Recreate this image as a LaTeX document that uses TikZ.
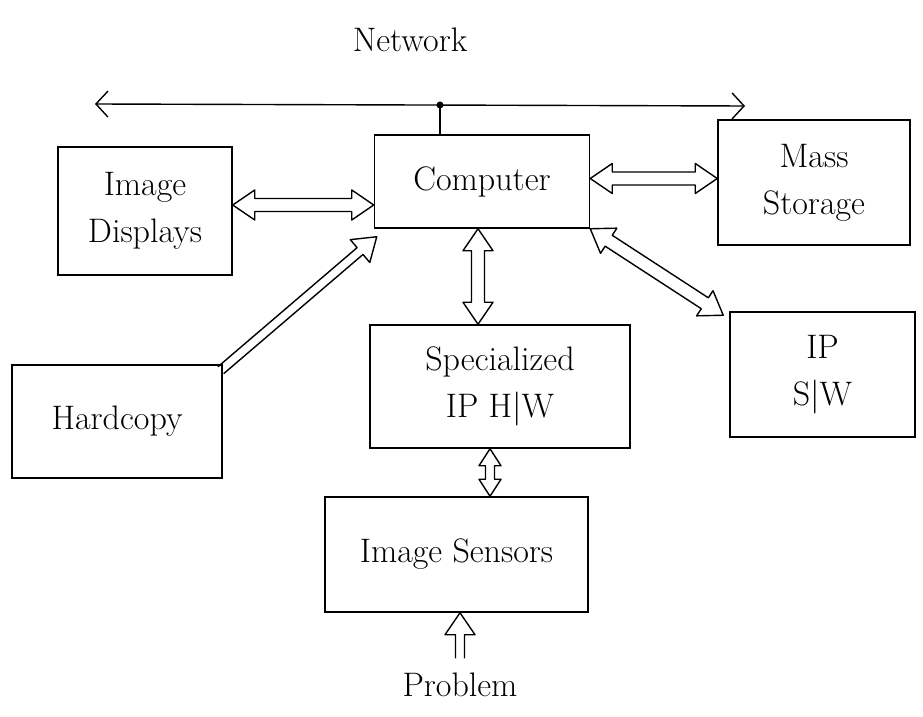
\documentclass[tikz,border=0pt]{standalone}
\usetikzlibrary{calc,arrows.meta}
\def\AH{22}\def\AW{15}\def\Aw{6.5}
\newcommand{\hboth}[2]{%
 \draw[harr] let \p1=($(#2)-(#1)$), \n1={atan2(\y1,\x1)}, \n2={veclen(\x1,\y1)} in
  (#1)
  -- ($(#1)+(\n1:\AH)+({\n1+90}:\AW)$)
  -- ($(#1)+(\n1:\AH)+({\n1+90}:\Aw)$)
  -- ($(#1)+(\n1:{\n2-\AH})+({\n1+90}:\Aw)$)
  -- ($(#1)+(\n1:{\n2-\AH})+({\n1+90}:\AW)$)
  -- (#2)
  -- ($(#1)+(\n1:{\n2-\AH})+({\n1-90}:\AW)$)
  -- ($(#1)+(\n1:{\n2-\AH})+({\n1-90}:\Aw)$)
  -- ($(#1)+(\n1:\AH)+({\n1-90}:\Aw)$)
  -- ($(#1)+(\n1:\AH)+({\n1-90}:\AW)$)
  -- cycle;}
\newcommand{\hone}[2]{%
 \draw[harr] let \p1=($(#2)-(#1)$), \n1={atan2(\y1,\x1)}, \n2={veclen(\x1,\y1)} in
  ($(#1)+({\n1+90}:\Aw)$)
  -- ($(#1)+(\n1:{\n2-\AH})+({\n1+90}:\Aw)$)
  -- ($(#1)+(\n1:{\n2-\AH})+({\n1+90}:\AW)$)
  -- (#2)
  -- ($(#1)+(\n1:{\n2-\AH})+({\n1-90}:\AW)$)
  -- ($(#1)+(\n1:{\n2-\AH})+({\n1-90}:\Aw)$)
  -- ($(#1)+({\n1-90}:\Aw)$);}
\begin{document}
\begin{tikzpicture}[x=1pt,y=1pt,line width=1.5pt,
  box/.style={draw,rectangle,align=center,inner sep=0pt,
    font=\fontsize{34}{47}\selectfont},
  lbl/.style={inner sep=0pt,font=\fontsize{34}{40}\selectfont},
  harr/.style={draw,line width=1.4pt,line join=round},
  netline/.style={line width=1.4pt,{Straight Barb[length=12pt,width=26pt]}-{Straight Barb[length=12pt,width=26pt]}}]
\useasboundingbox (0,0) rectangle (923,716);
% boxes
\node[box,minimum width=215pt,minimum height=93pt] (comp) at (482,534.5) {Computer};
\node[box,minimum width=174pt,minimum height=128pt] (disp) at (145,505) {Image\\Displays};
\node[box,minimum width=192pt,minimum height=125pt] (mass) at (814,533.5) {Mass\\Storage};
\node[box,minimum width=210pt,minimum height=113pt] (hard) at (117,294.5) {Hardcopy};
\node[box,minimum width=260pt,minimum height=123pt] (spec) at (500,329.5) {Specialized\\IP H|W};
\node[box,minimum width=185pt,minimum height=125pt] (ipsw) at (822.5,341.5) {IP\\S|W};
\node[box,minimum width=263pt,minimum height=115pt] (sens) at (456.5,161.5) {Image Sensors};
\node[lbl] (prob) at (460,31) {Problem};
\node[lbl] (netl) at (410,676) {Network};
% network bus
\coordinate (nl) at (95,612);
\coordinate (nr) at (745,610);
\coordinate (nj) at (440,611);
\draw[netline] (nl) -- (nr);
\fill (nj) circle (3.5pt);
\draw (nj) -- (nj |- comp.north);
% arrows
\coordinate (d1) at ($(disp.east)+(0,6)$);
\coordinate (d2) at (comp.west |- d1);
\hboth{d1}{d2}
\coordinate (m1) at ($(comp.east)+(0,3)$);
\coordinate (m2) at (mass.west |- m1);
\hboth{m1}{m2}
\coordinate (s1) at ($(comp.south)+(-4,0)$);
\coordinate (s2) at (spec.north -| s1);
\hboth{s1}{s2}
\coordinate (i1) at (comp.south east);
\coordinate (i2) at ($(ipsw.north west)+(-6,-4)$);
\hboth{i1}{i2}
\coordinate (h1) at ($(hard.north east)+(-2,-6)$);
\coordinate (h2) at ($(comp.south west)+(3,-8)$);
\begingroup\def\Aw{4.5}\hone{h1}{h2}\endgroup
\coordinate (e1) at ($(spec.south)+(-10,0)$);
\coordinate (e2) at (sens.north -| e1);
\begingroup\def\AH{17}\def\AW{11}\def\Aw{4.5}\hboth{e1}{e2}\endgroup
\coordinate (p1) at ($(prob.north)+(0,14)$);
\coordinate (p2) at (sens.south -| p1);
\begingroup\def\AH{22}\def\AW{15}\def\Aw{4.5}\hone{p1}{p2}\endgroup
\end{tikzpicture}
\end{document}
